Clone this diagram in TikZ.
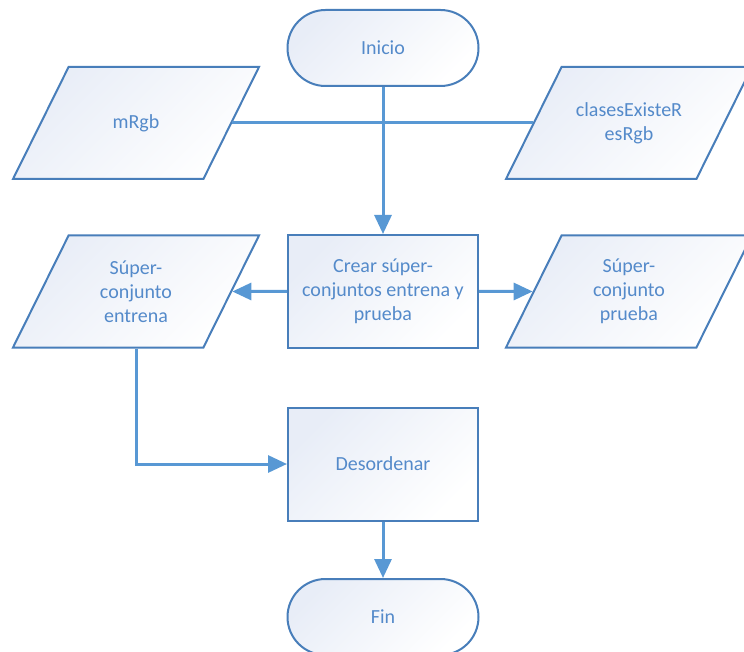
\documentclass[tikz,border=0pt]{standalone}
\usepackage{fontspec}
\setmainfont{Carlito}
\usetikzlibrary{shapes.geometric,arrows.meta}
\definecolor{edgeblue}{RGB}{72,126,186}
\definecolor{wireblue}{RGB}{88,152,212}
\definecolor{inkblue}{RGB}{84,138,202}
\definecolor{tintblue}{RGB}{232,237,247}
% fixed-height text block so the parallelogram keeps its slant
\newcommand{\datatext}[1]{\parbox[c][112pt][c]{120pt}{\centering #1}}
\tikzset{
  base/.style={draw=edgeblue, line width=2pt, text=inkblue, align=center,
    font=\fontsize{20}{24}\selectfont,
    top color=tintblue, bottom color=white, shading angle=45},
  terminal/.style={base, rectangle, rounded corners=38pt,
    minimum width=191pt, minimum height=76pt, inner sep=0pt},
  process/.style={base, rectangle, minimum width=190pt, minimum height=113pt, inner sep=0pt},
  data/.style={base, trapezium, trapezium left angle=63.6, trapezium right angle=116.4,
    trapezium stretches body, minimum width=246pt, minimum height=112pt, inner sep=0pt},
  wire/.style={draw=wireblue, line width=3pt},
  flow/.style={wire, -{Triangle[length=19pt,width=17pt]}}
}
\begin{document}
\begin{tikzpicture}[x=1pt,y=-1pt]
  \useasboundingbox (0,0) rectangle (744,652);

  % terminals and process steps
  \node[terminal] (inicio) at (383,48) {Inicio};
  \node[process] (crear) at (383,291.5) {Crear súper-\\conjuntos entrena y\\prueba};
  \node[process] (desordenar) at (383,464) {Desordenar};
  \node[terminal] (fin) at (383,617) {Fin};

  % data inputs and outputs
  \node[data] (mrgb) at (136,123) {\datatext{mRgb}};
  \node[data] (clases) at (629,123) {\datatext{clasesExisteR\\esRgb}};
  \node[data] (entrena) at (136,291.5) {\datatext{Súper-\\conjunto\\entrena}};
  \node[data] (prueba) at (629,291.5) {\datatext{Súper-\\conjunto\\prueba}};

  % connectors
  \draw[wire] (mrgb.east) -- (clases.west);
  \draw[flow] (inicio) -- (crear);
  \draw[flow] (crear) -- (entrena);
  \draw[flow] (crear) -- (prueba);
  \draw[flow] (entrena) |- (desordenar);
  \draw[flow] (desordenar) -- (fin);
\end{tikzpicture}
\end{document}
